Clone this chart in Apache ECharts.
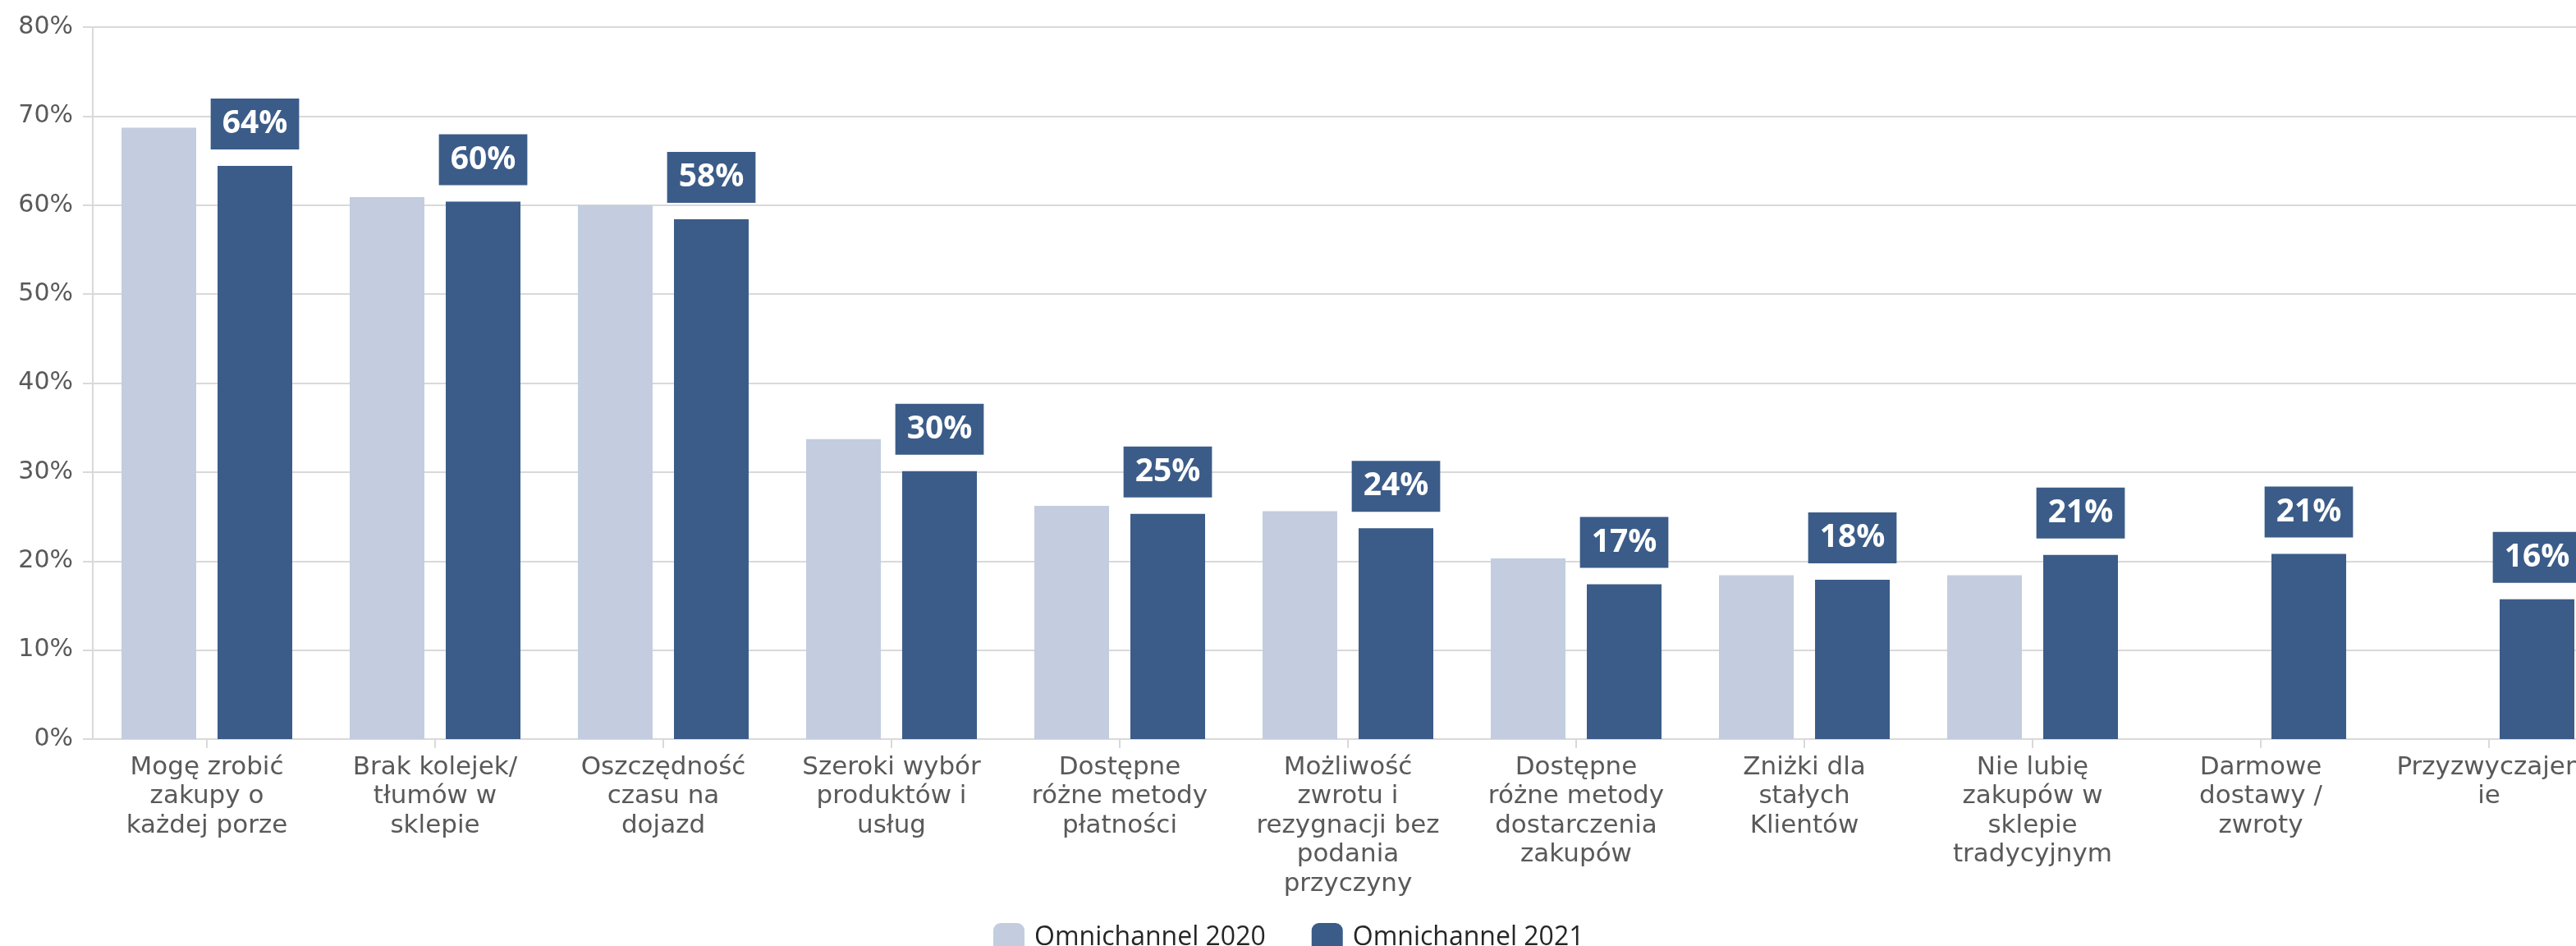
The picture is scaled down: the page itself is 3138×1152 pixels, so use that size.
<!DOCTYPE html>
<html>
<head>
<meta charset="utf-8">
<script src="https://cdn.jsdelivr.net/npm/echarts@6/dist/echarts.min.js"></script>
<style>
  html, body { margin: 0; padding: 0; background: #ffffff; }
  #chart { width: 3138px; height: 1152px; }
</style>
</head>
<body>
<div id="chart"></div>
<script>
// Reasons for choosing omnichannel shopping, 2020 vs 2021 (share of respondents, %)
const categories = [
  'Mogę zrobić\nzakupy o\nkażdej porze',
  'Brak kolejek/\ntłumów w\nsklepie',
  'Oszczędność\nczasu na\ndojazd',
  'Szeroki wybór\nproduktów i\nusług',
  'Dostępne\nróżne metody\npłatności',
  'Możliwość\nzwrotu i\nrezygnacji bez\npodania\nprzyczyny',
  'Dostępne\nróżne metody\ndostarczenia\nzakupów',
  'Zniżki dla\nstałych\nKlientów',
  'Nie lubię\nzakupów w\nsklepie\ntradycyjnym',
  'Darmowe\ndostawy /\nzwroty',
  'Przyzwyczajen\nie'
];

const seriesNames = ['Omnichannel 2020', 'Omnichannel 2021'];

const values2020 = [68.7, 60.9, 60.0, 33.7, 26.2, 25.6, 20.3, 18.4, 18.4, null, null];
const values2021 = [64.4, 60.4, 58.4, 30.1, 25.3, 23.7, 17.4, 17.9, 20.7, 20.8, 15.7];

const yTicks = { min: 0, max: 80, interval: 10 };

const COLOR_2020 = '#c3cddf';
const COLOR_2021 = '#3b5c88';
const GRID_GREY = '#d9d9d9';
const AXIS_TEXT = '#595959';

const chart = echarts.init(document.getElementById('chart'), null, { renderer: 'canvas' });

chart.setOption({
  animation: false,
  backgroundColor: '#ffffff',
  // the plot runs on past the right edge of the canvas, so its width is fixed
  // and labels are allowed to overflow the container
  grid: {
    left: 113, width: 3058, top: 33, bottom: 252,
    containLabel: false,
    outerBoundsMode: 'none'
  },
  legend: {
    data: seriesNames,
    left: 1210,
    top: 1124,
    padding: 0,
    icon: 'roundRect',
    itemWidth: 38,
    itemHeight: 36,
    itemGap: 56,
    textStyle: {
      fontFamily: 'Open Sans',
      fontSize: 32,
      color: '#262626',
      padding: [0, 0, 0, 7]
    }
  },
  xAxis: {
    type: 'category',
    data: categories,
    axisLine: { show: true, lineStyle: { color: GRID_GREY, width: 2 } },
    axisTick: { show: true, alignWithLabel: true, length: 11, lineStyle: { color: GRID_GREY, width: 2 } },
    axisLabel: {
      interval: 0,
      margin: 17,
      fontFamily: 'DejaVu Sans',
      fontSize: 31,
      lineHeight: 35.5,
      color: AXIS_TEXT,
      align: 'center'
    }
  },
  yAxis: {
    type: 'value',
    min: yTicks.min,
    max: yTicks.max,
    interval: yTicks.interval,
    axisLine: { show: true, lineStyle: { color: GRID_GREY, width: 2 } },
    axisTick: { show: true, length: 12, lineStyle: { color: GRID_GREY, width: 2 } },
    splitLine: { show: true, lineStyle: { color: GRID_GREY, width: 2 } },
    axisLabel: {
      formatter: '{value}%',
      margin: 24,
      fontFamily: 'DejaVu Sans',
      fontSize: 30,
      color: AXIS_TEXT
    }
  },
  series: [
    {
      name: seriesNames[0],
      type: 'bar',
      data: values2020,
      barWidth: 91,
      barGap: '28.6%',
      itemStyle: { color: COLOR_2020 }
    },
    {
      name: seriesNames[1],
      type: 'bar',
      data: values2021,
      barWidth: 91,
      barGap: '28.6%',
      itemStyle: { color: COLOR_2021 },
      label: {
        show: true,
        position: 'top',
        distance: 20,
        formatter: (p) => Math.round(p.value) + '%',
        backgroundColor: COLOR_2021,
        padding: [11, 14, 11, 14],
        fontFamily: 'Open Sans',
        fontWeight: 'bold',
        fontSize: 39,
        lineHeight: 40,
        color: '#ffffff'
      }
    }
  ]
});
</script>
</body>
</html>
